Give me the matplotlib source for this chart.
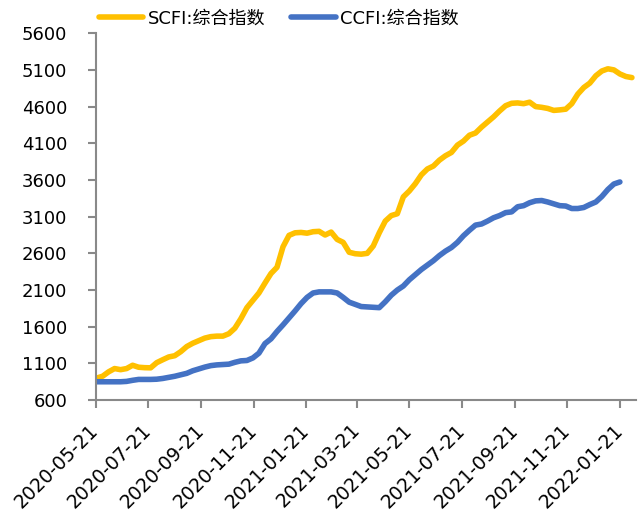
import numpy as np
import pandas as pd
import matplotlib
matplotlib.use("Agg")
import matplotlib.pyplot as plt
import matplotlib.dates as mdates

plt.rcParams['font.family'] = ['DejaVu Sans', 'Noto Sans CJK SC']

# weekly data (Fridays)
dates = pd.date_range("2020-05-22", periods=90, freq="7D")

scfi = [900, 925, 985, 1030, 1015, 1030, 1075, 1048, 1042, 1040,
        1110, 1150, 1188, 1205, 1260, 1330, 1375, 1410, 1445, 1465,
        1472, 1472, 1505, 1580, 1710, 1860, 1960, 2060, 2195, 2325,
        2410, 2690, 2845, 2880, 2885, 2875, 2895, 2900, 2850, 2890,
        2790, 2750, 2615, 2595, 2589, 2600, 2700, 2880, 3040, 3115,
        3140, 3370, 3450, 3550, 3670, 3750, 3790, 3870, 3930, 3975,
        4075, 4130, 4210, 4240, 4320, 4390, 4460, 4540, 4612, 4645,
        4650, 4640, 4660, 4600, 4590, 4575, 4548, 4555, 4565, 4640,
        4770, 4860, 4920, 5020, 5085, 5115, 5100, 5045, 5010, 4995]

ccfi = [850, 850, 850, 850, 850, 855, 870, 882, 882, 882,
        885, 895, 910, 925, 945, 965, 1000, 1025, 1050, 1070,
        1080, 1085, 1090, 1115, 1135, 1140, 1175, 1240, 1370, 1435,
        1535, 1625, 1720, 1815, 1915, 2000, 2060, 2075, 2075, 2075,
        2060, 2000, 1935, 1905, 1875, 1870, 1865, 1860, 1940, 2030,
        2100, 2155, 2240, 2310, 2380, 2440, 2500, 2570, 2630, 2680,
        2750, 2840, 2915, 2985, 3000, 3040, 3085, 3115, 3155, 3165,
        3235, 3250, 3290, 3315, 3320, 3300, 3275, 3250, 3245, 3211,
        3211, 3225, 3265, 3300, 3375, 3470, 3545, 3573]

tick_labels = ['2020-05-21', '2020-07-21', '2020-09-21', '2020-11-21',
               '2021-01-21', '2021-03-21', '2021-05-21', '2021-07-21',
               '2021-09-21', '2021-11-21', '2022-01-21']
y_ticks = np.arange(600, 5601, 500)

fig = plt.figure(figsize=(6.42, 5.11), dpi=100)
ax = fig.add_axes([0.149, 0.217, 0.842, 0.718])

ax.plot(dates, scfi, color='#FFC000', lw=4.0, solid_joinstyle='round',
        solid_capstyle='round', label='SCFI:综合指数')
ax.plot(dates[:len(ccfi)], ccfi, color='#4472C4', lw=4.0, solid_joinstyle='round',
        solid_capstyle='round', label='CCFI:综合指数')

ax.set_ylim(600, 5600)
ax.set_yticks(y_ticks)
ax.set_xlim(pd.Timestamp("2020-05-21"), pd.Timestamp("2022-02-09"))
ax.set_xticks(pd.to_datetime(tick_labels))
ax.xaxis.set_major_formatter(mdates.DateFormatter('%Y-%m-%d'))

for s in ['top', 'right']:
    ax.spines[s].set_visible(False)
for s in ['left', 'bottom']:
    ax.spines[s].set_color('#898989')
    ax.spines[s].set_linewidth(1.5)
ax.tick_params(axis='both', colors='#898989', length=5.5, width=1.5, direction='out')
ax.tick_params(axis='y', labelcolor='black', labelsize=13, pad=15)
ax.tick_params(axis='x', labelcolor='black', labelsize=13.6, pad=4)
plt.setp(ax.get_xticklabels(), rotation=45, ha='right', va='center',
         rotation_mode='anchor')
for t in ax.get_xticklabels():
    t.set_y(-0.038)

ax.legend(loc='center left', bbox_to_anchor=(99 / 642, 1 - 18.3 / 511),
          bbox_transform=fig.transFigure, ncol=2, frameon=False,
          fontsize=13, handlelength=2.45, handletextpad=0.25, columnspacing=1.45,
          borderaxespad=0, borderpad=0)

fig.savefig('out.png', dpi=100)
